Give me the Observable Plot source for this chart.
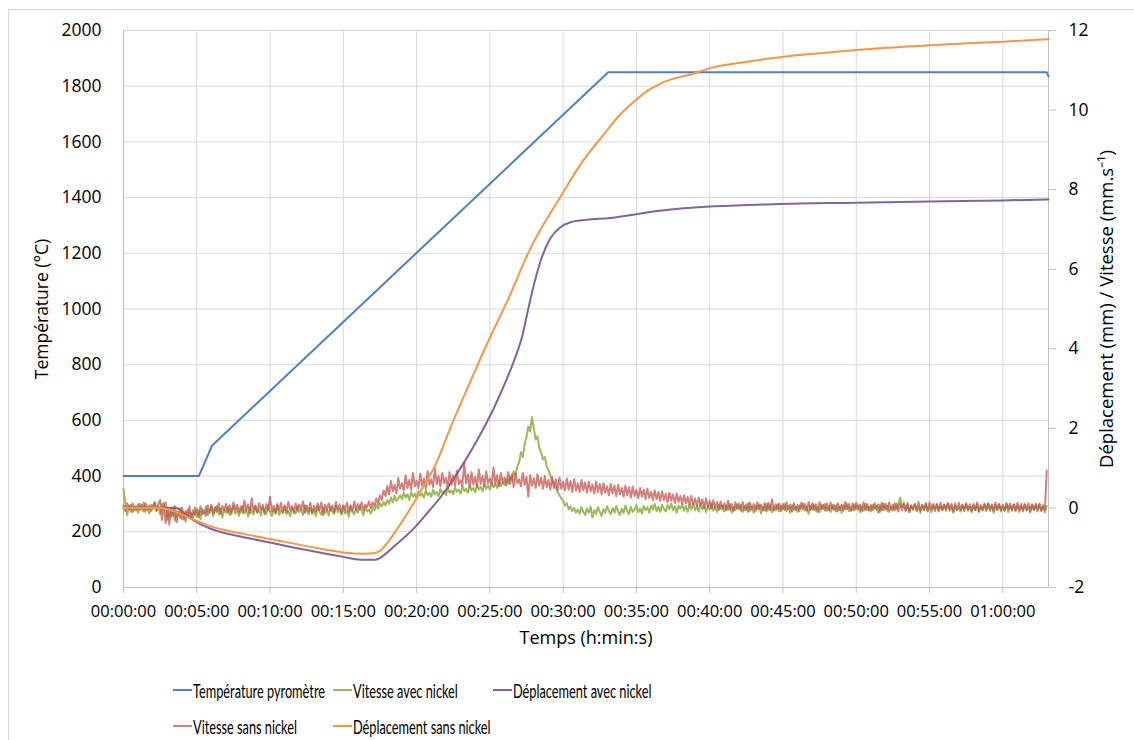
<!DOCTYPE html>
<html>
<head>
<meta charset="utf-8">
<script src="https://cdn.jsdelivr.net/npm/d3@7"></script>
<script src="https://cdn.jsdelivr.net/npm/@observablehq/plot@0.6"></script>
<style>
  html, body { margin: 0; padding: 0; background: #fff; }
  body { position: relative; width: 1134px; height: 740px; overflow: hidden; font-family: "Open Sans", sans-serif; }
  #frame { position: absolute; left: 8px; top: 9px; width: 1150px; height: 760px; border: 1px solid #d9d9d9; box-sizing: border-box; }
  #chart { position: absolute; left: 0; top: 0; }
  .item { position: absolute; display: flex; align-items: center; height: 24px; font-family: Lato, sans-serif; font-size: 19.5px; color: #000; white-space: nowrap; }
  .sw { width: 19px; height: 2px; margin-right: 1px; flex: none; }
  .tx { display: inline-block; transform-origin: 0 50%; }
</style>
</head>
<body>
<div id="frame"></div>
<div id="chart"></div>
<div id="legend"></div>
<script>
// ---- Data (times in minutes) ----
const seriesNames = ["Température pyromètre", "Vitesse avec nickel", "Déplacement avec nickel", "Vitesse sans nickel", "Déplacement sans nickel"];
const xTickMinutes = [0, 5, 10, 15, 20, 25, 30, 35, 40, 45, 50, 55, 60];
const xEnd = 63.12;
const leftTicks = [0, 200, 400, 600, 800, 1000, 1200, 1400, 1600, 1800, 2000];
const rightTicks = [-2, 0, 2, 4, 6, 8, 10, 12];

// Température pyromètre (°C)
const tempTimes  = [0, 5.14, 6.05, 33.08, 63.0, 63.12];
const tempValues = [400, 400, 510, 1850, 1850, 1835];

// Déplacement avec nickel (mm)
const dispAvecTimes  = [0, 3.6, 4.1, 5, 6, 8, 10, 12.5, 15, 16.2, 17.2, 17.8, 18.45, 19.8, 20.8, 21.8, 23.0, 24.1, 25.3, 26.2, 26.8, 27.2, 27.5, 27.9, 28.5, 29.1, 29.8, 30.5, 31.5, 33.2, 36.6, 40.3, 44.8, 50, 55, 60, 63.12];
const dispAvecValues = [0, 0, -0.12, -0.36, -0.53, -0.72, -0.87, -1.06, -1.23, -1.30, -1.30, -1.18, -0.97, -0.52, -0.10, 0.35, 1.0, 1.68, 2.53, 3.28, 3.85, 4.3, 4.8, 5.45, 6.25, 6.76, 7.05, 7.18, 7.24, 7.29, 7.47, 7.58, 7.64, 7.67, 7.70, 7.73, 7.75];

// Déplacement sans nickel (mm)
const dispSansTimes  = [0, 2.5, 5, 6, 8, 10, 12.5, 15, 16.4, 17.1, 17.6, 18.0, 18.45, 19.6, 20.4, 21.2, 22.5, 23.7, 24.8, 26.2, 27.8, 29.8, 31.2, 32.8, 33.8, 34.8, 35.7, 36.6, 38.9, 40.1, 42.5, 44.8, 47.5, 50, 55, 60, 63.12];
const dispSansValues = [0, 0, -0.33, -0.47, -0.64, -0.78, -0.96, -1.12, -1.15, -1.14, -1.05, -0.88, -0.65, 0.0, 0.51, 1.02, 2.19, 3.2, 4.12, 5.21, 6.55, 7.81, 8.64, 9.4, 9.85, 10.2, 10.47, 10.66, 10.92, 11.06, 11.21, 11.33, 11.43, 11.51, 11.63, 11.72, 11.78];

// Vitesse (mm.s-1), one reading every 0.125 min (8 per row = 1 minute)
const vitesseStep = 0.125;
const vitesseAvec = [
  0.48, 0.10, -0.18, 0.06, -0.10, 0.12, -0.06, 0.04,
  -0.12, 0.10, -0.04, 0.14, -0.10, 0.02, -0.14, 0.08,
  -0.02, 0.12, -0.08, 0.04, -0.16, 0.10, -0.05, 0.15,
  -0.30, -0.05, -0.22, 0.02, -0.32, -0.08, -0.18, 0.00,
  -0.28, -0.10, -0.35, -0.04, -0.20, -0.12, -0.26, 0.02,
  -0.22, -0.06, -0.28, -0.02, -0.14, 0.04, -0.18, -0.08,
  0.02, -0.20, -0.06, 0.05, -0.16, -0.02, -0.24, -0.04,
  -0.12, 0.03, -0.18, -0.05, 0.04, -0.15, -0.02, -0.20,
  -0.06, 0.05, -0.14, -0.03, -0.22, 0.02, -0.10, -0.16,
  0.04, -0.12, -0.04, -0.19, 0.01, -0.08, -0.15, 0.06,
  -0.10, -0.20, -0.02, -0.13, 0.05, -0.17, -0.06, -0.12,
  0.03, -0.15, -0.07, -0.21, 0.02, -0.09, -0.14, 0.04,
  -0.11, -0.03, -0.18, 0.07, -0.08, -0.16, 0.00, -0.12,
  -0.05, -0.20, 0.04, -0.10, -0.17, 0.01, -0.13, -0.04,
  -0.19, 0.03, -0.09, -0.15, 0.05, -0.11, -0.03, -0.17,
  0.02, -0.14, -0.06, -0.22, 0.04, -0.10, -0.16, -0.02,
  -0.12, 0.05, -0.08, -0.18, 0.03, -0.09, -0.04, -0.14,
  0.02, -0.06, 0.08, -0.02, 0.12, 0.04, 0.15, 0.06,
  0.20, 0.10, 0.26, 0.14, 0.30, 0.18, 0.24, 0.32,
  0.22, 0.38, 0.26, 0.34, 0.20, 0.40, 0.28, 0.36,
  0.24, 0.42, 0.30, 0.36, 0.26, 0.44, 0.32, 0.38,
  0.28, 0.46, 0.34, 0.40, 0.30, 0.48, 0.36, 0.42,
  0.32, 0.50, 0.38, 0.44, 0.34, 0.52, 0.40, 0.46,
  0.36, 0.54, 0.42, 0.48, 0.38, 0.56, 0.44, 0.50,
  0.40, 0.58, 0.46, 0.53, 0.42, 0.60, 0.48, 0.56,
  0.46, 0.63, 0.52, 0.60, 0.50, 0.68, 0.56, 0.64,
  0.58, 0.72, 0.62, 0.78, 0.70, 0.92, 0.82, 1.05,
  1.15, 1.40, 1.28, 1.62, 1.78, 2.05, 1.92, 2.28,
  2.00, 1.72, 1.80, 1.50, 1.40, 1.22, 1.28, 1.05,
  0.95, 0.82, 0.70, 0.58, 0.52, 0.40, 0.32, 0.24,
  0.18, 0.06, 0.12, -0.04, 0.04, -0.08, 0.00, -0.12,
  -0.04, -0.14, 0.02, -0.10, -0.18, -0.02, -0.12, 0.03,
  -0.24, -0.06, -0.15, 0.02, -0.10, -0.20, -0.03, -0.12,
  0.04, -0.08, -0.16, 0.00, -0.12, 0.05, -0.09, -0.18,
  -0.02, -0.13, 0.06, -0.07, -0.15, 0.03, -0.10, -0.04,
  0.07, -0.11, -0.02, -0.14, 0.05, -0.06, 0.02, -0.12,
  0.06, -0.04, 0.10, -0.08, 0.03, -0.10, 0.08, -0.02,
  -0.09, 0.07, -0.03, 0.11, -0.06, 0.04, -0.12, 0.06,
  -0.02, 0.09, -0.07, 0.05, -0.10, 0.08, -0.04, 0.12,
  -0.06, 0.04, -0.09, 0.10, -0.03, 0.07, -0.11, 0.05,
  -0.04, 0.11, -0.07, 0.03, -0.10, 0.08, -0.02, 0.06,
  -0.09, 0.05, -0.05, 0.10, -0.12, 0.02, -0.06, 0.09,
  -0.03, 0.07, -0.10, 0.04, -0.06, 0.12, -0.08, 0.03,
  -0.12, 0.06, -0.04, 0.09, -0.14, 0.03, -0.07, 0.10,
  -0.05, 0.08, -0.11, 0.02, -0.06, 0.09, -0.09, 0.05,
  -0.03, 0.10, -0.08, 0.04, -0.12, 0.07, -0.05, 0.03,
  -0.10, 0.06, -0.02, 0.11, -0.07, 0.04, -0.15, 0.05,
  -0.04, 0.09, -0.08, 0.03, -0.11, 0.07, -0.03, 0.10,
  -0.07, 0.04, -0.10, 0.08, -0.05, 0.06, -0.09, 0.03,
  -0.12, 0.07, -0.04, 0.10, -0.08, 0.02, -0.06, 0.09,
  -0.03, 0.06, -0.11, 0.04, -0.07, 0.10, -0.05, 0.03,
  -0.09, 0.08, -0.02, 0.05, -0.12, 0.07, -0.06, 0.11,
  -0.04, 0.06, -0.10, 0.03, -0.07, 0.12, -0.03, 0.08,
  0.26, 0.02, 0.14, -0.06, 0.08, -0.10, 0.05, -0.04,
  0.09, -0.08, 0.04, -0.12, 0.06, -0.05, 0.10, -0.07,
  0.03, -0.11, 0.07, -0.04, 0.10, -0.09, 0.05, -0.06,
  0.08, -0.03, 0.11, -0.08, 0.04, -0.12, 0.06, -0.05,
  0.02, -0.09, 0.07, -0.04, 0.10, -0.07, 0.03, -0.11,
  0.06, -0.05, 0.09, -0.10, 0.04, -0.06, 0.08, -0.03,
  0.11, -0.08, 0.05, -0.12, 0.07, -0.04, 0.09, -0.09,
  0.03, -0.06, 0.10, -0.11, 0.05, -0.03, 0.08, -0.08,
  0.06, -0.10, 0.04, -0.05, 0.11, -0.07, 0.02, -0.12,
  0.08, -0.04, 0.06, -0.09, 0.10, -0.06, 0.04, -0.11,
  0.05
];
const vitesseSans = [
  0.06, -0.08, 0.12, -0.04, 0.08, -0.10, 0.05, -0.06,
  0.10, -0.05, 0.07, -0.09, 0.12, -0.03, 0.06, -0.08,
  0.04, 0.15, -0.06, 0.10, 0.20, -0.30, 0.12, -0.38,
  0.02, -0.42, -0.05, -0.20, 0.05, -0.36, -0.10, -0.25,
  0.00, -0.30, -0.08, -0.22, 0.04, -0.28, -0.06, -0.18,
  -0.02, -0.24, 0.04, -0.16, -0.08, -0.20, 0.06, -0.12,
  0.08, -0.14, 0.02, -0.10, 0.12, -0.16, 0.05, -0.06,
  0.10, -0.12, 0.06, -0.15, 0.14, -0.04, 0.08, -0.10,
  0.04, -0.13, 0.18, -0.06, 0.09, -0.14, 0.24, -0.08,
  0.06, -0.11, 0.12, -0.04, 0.08, -0.16, 0.10, -0.05,
  0.28, -0.08, 0.05, -0.14, 0.10, -0.06, 0.13, -0.12,
  0.07, -0.10, 0.15, -0.05, 0.04, -0.13, 0.11, -0.07,
  0.09, -0.04, 0.16, -0.12, 0.06, -0.08, 0.13, -0.15,
  0.05, -0.09, 0.11, -0.06, 0.14, -0.18, 0.08, -0.05,
  0.12, -0.07, 0.06, -0.11, 0.15, -0.04, 0.09, -0.13,
  0.07, -0.05, 0.13, -0.10, 0.06, -0.08, 0.16, -0.06,
  0.10, -0.03, 0.14, -0.06, 0.08, 0.02, 0.16, 0.00,
  0.14, 0.05, 0.24, 0.10, 0.32, 0.20, 0.44, 0.30,
  0.55, 0.34, 0.68, 0.42, 0.58, 0.36, 0.75, 0.48,
  0.62, 0.44, 0.82, 0.50, 0.70, 0.46, 0.88, 0.54,
  0.68, 0.50, 0.86, 0.56, 0.74, 0.48, 0.92, 0.58,
  0.72, 0.52, 1.00, 0.60, 0.80, 0.54, 0.88, 0.62,
  0.76, 0.50, 0.90, 0.58, 0.82, 0.56, 0.94, 0.60,
  0.70, 0.55, 1.15, 0.62, 0.84, 0.52, 0.90, 0.58,
  0.78, 0.54, 0.96, 0.60, 0.80, 0.56, 0.92, 0.62,
  0.74, 0.58, 1.02, 0.60, 0.82, 0.54, 0.88, 0.64,
  0.76, 0.56, 0.90, 0.60, 0.84, 0.52, 0.86, 0.62,
  0.72, 0.54, 0.88, 0.58, 0.78, 0.28, 0.82, 0.56,
  0.74, 0.50, 0.84, 0.56, 0.76, 0.48, 0.80, 0.52,
  0.70, 0.46, 0.78, 0.50, 0.72, 0.44, 0.76, 0.48,
  0.66, 0.44, 0.74, 0.46, 0.68, 0.40, 0.72, 0.44,
  0.62, 0.40, 0.70, 0.44, 0.64, 0.38, 0.66, 0.42,
  0.58, 0.36, 0.66, 0.40, 0.60, 0.34, 0.62, 0.38,
  0.54, 0.32, 0.60, 0.36, 0.56, 0.30, 0.58, 0.34,
  0.50, 0.28, 0.56, 0.32, 0.52, 0.26, 0.54, 0.30,
  0.45, 0.24, 0.50, 0.28, 0.46, 0.22, 0.48, 0.25,
  0.40, 0.20, 0.44, 0.22, 0.40, 0.18, 0.42, 0.20,
  0.35, 0.14, 0.38, 0.18, 0.34, 0.12, 0.36, 0.15,
  0.30, 0.10, 0.32, 0.12, 0.28, 0.06, 0.30, 0.08,
  0.24, 0.04, 0.26, 0.06, 0.22, 0.00, 0.24, 0.02,
  0.18, -0.02, 0.20, 0.00, 0.15, -0.05, 0.16, -0.03,
  0.12, -0.06, 0.18, -0.04, 0.10, -0.08, 0.14, -0.02,
  0.11, -0.07, 0.15, -0.05, 0.09, -0.10, 0.13, -0.04,
  0.10, -0.08, 0.14, -0.03, 0.08, -0.06, 0.12, -0.09,
  0.13, -0.05, 0.22, -0.07, 0.09, -0.04, 0.11, -0.08,
  0.10, -0.06, 0.14, -0.03, 0.08, -0.09, 0.12, -0.05,
  0.07, -0.08, 0.13, -0.04, 0.10, -0.07, 0.15, -0.06,
  0.12, -0.05, 0.09, -0.10, 0.14, -0.03, 0.08, -0.07,
  0.11, -0.06, 0.13, -0.04, 0.07, -0.09, 0.12, -0.05,
  0.08, -0.07, 0.15, -0.03, 0.10, -0.08, 0.11, -0.06,
  0.13, -0.04, 0.09, -0.09, 0.14, -0.05, 0.10, -0.07,
  0.07, -0.06, 0.12, -0.03, 0.09, -0.10, 0.13, -0.05,
  0.10, -0.07, 0.14, -0.04, 0.08, -0.06, 0.11, -0.09,
  0.12, -0.05, 0.09, -0.08, 0.13, -0.11, 0.07, -0.04,
  0.10, -0.06, 0.15, -0.07, 0.08, -0.05, 0.12, -0.09,
  0.14, -0.04, 0.10, -0.08, 0.09, -0.06, 0.13, -0.05,
  0.08, -0.07, 0.12, -0.03, 0.10, -0.09, 0.11, -0.06,
  0.13, -0.05, 0.08, -0.08, 0.12, -0.04, 0.09, -0.07,
  0.10, -0.06, 0.14, -0.09, 0.07, -0.05, 0.11, -0.08,
  0.12, -0.04, 0.09, -0.07, 0.13, -0.06, 0.10, -0.05,
  0.08, -0.08, 0.12, -0.03, 0.11, -0.07, 0.09, -0.06,
  0.13, -0.05, 0.10, -0.09, 0.08, -0.04, 0.12, -0.07,
  0.09, -0.06, 0.11, -0.04, 0.10, -0.08, 0.07, -0.05,
  0.94
];

// ---- Helpers ----
const colors = ["#4f81bd", "#9bbb59", "#8064a2", "#c0504d", "#f79646"];
const toT = v => (v + 2) * 2000 / 14;          // right axis -> left axis units
const fromT = t => t * 14 / 2000 - 2;
const pad = n => String(n).padStart(2, "0");
const fmtTime = m => `${pad(Math.floor(m / 60))}:${pad(m % 60)}:00`;

const tempData = tempTimes.map((t, i) => ({t, y: tempValues[i]}));
const dAvec = dispAvecTimes.map((t, i) => ({t, y: toT(dispAvecValues[i])}));
const dSans = dispSansTimes.map((t, i) => ({t, y: toT(dispSansValues[i])}));
const vAvec = vitesseAvec.map((v, i) => ({t: i * vitesseStep, y: toT(v)}));
const vSans = vitesseSans.map((v, i) => ({t: i * vitesseStep, y: toT(v)}));

const plot = Plot.plot({
  width: 1134,
  height: 660,
  marginLeft: 123,
  marginRight: 86,
  marginTop: 30,
  marginBottom: 73,
  x: {domain: [0, xEnd]},
  y: {domain: [0, 2000]},
  style: {fontFamily: "Open Sans, sans-serif", fontSize: "17px", color: "#000", background: "transparent", overflow: "visible"},
  marks: [
    Plot.gridY(leftTicks, {stroke: "#d9d9d9", strokeOpacity: 1, strokeWidth: 1}),
    Plot.gridX(xTickMinutes, {stroke: "#d9d9d9", strokeOpacity: 1, strokeWidth: 1}),
    Plot.ruleX([0, xEnd], {stroke: "#bfbfbf"}),
    Plot.ruleY([0], {stroke: "#bfbfbf"}),
    Plot.axisX(xTickMinutes, {anchor: "bottom", tickSize: 6, stroke: "#bfbfbf", tickPadding: 12, tickFormat: fmtTime, label: null, fontSize: 16.5}),
    Plot.axisY(leftTicks, {anchor: "left", tickSize: 0, tickPadding: 22, tickFormat: d => String(d), label: null, fontSize: 17.5}),
    Plot.axisY(rightTicks.map(toT), {anchor: "right", tickSize: 7, stroke: "#bfbfbf", tickPadding: 13, tickFormat: t => String(Math.round(fromT(t))), label: null, fontSize: 17.5}),
    Plot.text(["Temps (h:min:s)"], {frameAnchor: "bottom", dy: 51, text: d => d, fontSize: 18, textAnchor: "middle", lineAnchor: "middle"}),
    Plot.text(["Température (°C)"], {frameAnchor: "left", dx: -81, rotate: -90, text: d => d, fontSize: 17.5, textAnchor: "middle", lineAnchor: "middle"}),
    Plot.text(["Déplacement (mm) / Vitesse (mm.s⁻¹)"], {frameAnchor: "right", dx: 59, rotate: -90, text: d => d, fontSize: 18.5, textAnchor: "middle", lineAnchor: "middle"}),
    Plot.line(tempData, {x: "t", y: "y", stroke: colors[0], strokeWidth: 2}),
    Plot.line(vAvec, {x: "t", y: "y", stroke: colors[1], strokeWidth: 2}),
    Plot.line(dAvec, {x: "t", y: "y", stroke: colors[2], strokeWidth: 2, curve: "monotone-x"}),
    Plot.line(vSans, {x: "t", y: "y", stroke: colors[3], strokeWidth: 2, strokeOpacity: 0.72}),
    Plot.line(dSans, {x: "t", y: "y", stroke: colors[4], strokeWidth: 2, curve: "monotone-x"})
  ]
});
document.getElementById("chart").appendChild(plot);

// ---- Legend (HTML, below the SVG) ----
const legendPos = [[173, 678], [333, 678], [493, 678], [173, 714], [333, 714]];
const legend = document.getElementById("legend");
const texts = [];
seriesNames.forEach((name, i) => {
  const it = document.createElement("div");
  it.className = "item";
  it.style.left = legendPos[i][0] + "px";
  it.style.top = legendPos[i][1] + "px";
  const sw = document.createElement("span");
  sw.className = "sw";
  sw.style.background = colors[i];
  if (i === 3) sw.style.opacity = 0.72;
  const tx = document.createElement("span");
  tx.className = "tx";
  tx.textContent = name;
  it.appendChild(sw);
  it.appendChild(tx);
  legend.appendChild(it);
  texts.push(tx);
});
// condense the legend text to the reference's narrow face (first label spans ~132px)
const k = 132 / texts[0].getBoundingClientRect().width;
texts.forEach(t => { t.style.transform = `scaleX(${k})`; });
</script>
</body>
</html>
